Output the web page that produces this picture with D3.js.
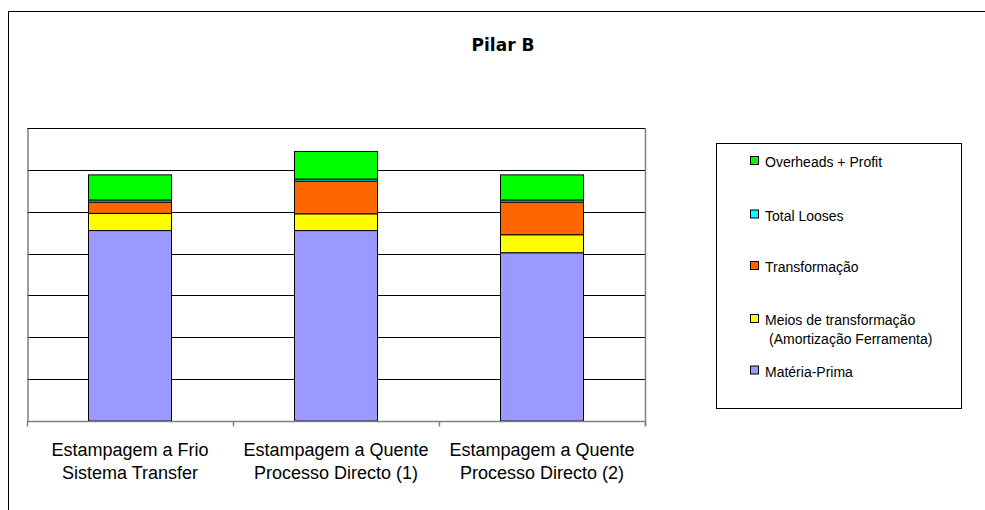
<!DOCTYPE html>
<html><head><meta charset="utf-8">
<script src="https://cdn.jsdelivr.net/npm/d3@7"></script>
<style>body{margin:0;background:#fff}svg{display:block}</style>
</head><body>
<svg id="c" width="985" height="510"></svg>
<script>
const categories = [["Estampagem a Frio","Sistema Transfer"],["Estampagem a Quente","Processo Directo (1)"],["Estampagem a Quente","Processo Directo (2)"]];
const seriesNames = ["Matéria-Prima","Meios de transformação (Amortização Ferramenta)","Transformação","Total Looses","Overheads + Profit"];
const materiaPrima = [4.55, 4.55, 4.02];
const meios = [0.41, 0.40, 0.43];
const transformacao = [0.27, 0.78, 0.78];
const totalLooses = [0.05, 0.05, 0.05];
const overheads = [0.60, 0.66, 0.60];
const colors = ["#9999FF","#FFFF00","#FF6600","#00FFFF","#00FF00"];
const yTicks = [0,1,2,3,4,5,6,7];

const svg = d3.select("#c");
// outer chart border
svg.append("rect").attr("x",8.5).attr("y",11.5).attr("width",1000).attr("height",520)
  .attr("fill","none").attr("stroke","#000").attr("stroke-width",1);

svg.append("text").attr("x",503).attr("y",51).attr("text-anchor","middle")
  .style("font-family","DejaVu Sans").style("font-weight","bold").style("font-size","17px")
  .text("Pilar B");

const L=27, R=645, T=128, B=421;
const keys = categories.map((c,i)=>i);
const x = d3.scaleBand().domain(keys).range([L,R]).paddingInner(0.595).paddingOuter(0.2975);
const xb = d3.scaleBand().domain(keys).range([L,R]).padding(0);
const y = d3.scaleLinear().domain([0,7]).range([B,T]);

// gridlines
svg.append("g").selectAll("line").data(yTicks.slice(1)).join("line")
  .attr("x1",L).attr("x2",R).attr("y1",d=>Math.round(y(d))+0.5).attr("y2",d=>Math.round(y(d))+0.5)
  .attr("stroke","#000").attr("stroke-width",1);

// stacked data
const rows = keys.map(i=>({i, s0:materiaPrima[i], s1:meios[i], s2:transformacao[i], s3:totalLooses[i], s4:overheads[i]}));
const stack = d3.stack().keys(["s0","s1","s2","s3","s4"])(rows);
svg.append("g").selectAll("g").data(stack).join("g").attr("fill",(d,k)=>colors[k])
  .selectAll("rect").data(d=>d).join("rect")
  .attr("x",d=>Math.round(x(d.data.i))+0.5).attr("width",Math.round(x.bandwidth()))
  .attr("y",d=>y(d[1])).attr("height",d=>y(d[0])-y(d[1]))
  .attr("stroke","#000").attr("stroke-width",1);

// right border of plot area
svg.append("line").attr("x1",R+0.5).attr("x2",R+0.5).attr("y1",T).attr("y2",B+5)
  .attr("stroke","#808080").attr("stroke-width",1.5);

// axes
const yAxis = d3.axisLeft(y).tickValues(yTicks).tickSize(0).tickFormat("");
svg.append("g").attr("transform",`translate(${L+0.5},0)`).call(yAxis)
  .call(g=>g.select(".domain").attr("stroke","#808080").attr("stroke-width",1.5));
const xAxisG = svg.append("g").attr("transform",`translate(0,${B+0.5})`);
xAxisG.append("line").attr("x1",L).attr("x2",R).attr("stroke","#808080").attr("stroke-width",1.5);
xAxisG.selectAll("line.t").data([...keys.map(k=>xb(k)), R]).join("line").attr("class","t")
  .attr("x1",d=>d+0.5).attr("x2",d=>d+0.5).attr("y1",0).attr("y2",5)
  .attr("stroke","#808080").attr("stroke-width",1.5);
const lab = xAxisG.selectAll("text").data(keys).join("text")
  .attr("x",k=>xb(k)+xb.bandwidth()/2).attr("text-anchor","middle")
  .style("font-family","'Liberation Sans', Arial").style("font-size","18px").attr("fill","#000");
lab.selectAll("tspan").data(k=>categories[k]).join("tspan")
  .attr("x",function(){return this.parentNode.getAttribute("x");})
  .attr("y",(d,j)=>34.5+j*22.6).text(d=>d);

// legend
svg.append("rect").attr("x",716.5).attr("y",143.5).attr("width",245).attr("height",265)
  .attr("fill","#fff").attr("stroke","#000").attr("stroke-width",1);
const legendItems = [
  {k:4, lines:["Overheads + Profit"], yb:167},
  {k:3, lines:["Total Looses"], yb:220.5},
  {k:2, lines:["Transformação"], yb:272},
  {k:1, lines:["Meios de transformação","(Amortização Ferramenta)"], yb:325},
  {k:0, lines:["Matéria-Prima"], yb:376.5}
];
const lg = svg.append("g").selectAll("g").data(legendItems).join("g");
lg.append("rect").attr("x",750.5).attr("y",d=>d.yb-10.5).attr("width",8).attr("height",8)
  .attr("fill",d=>colors[d.k]).attr("stroke","#000").attr("stroke-width",1);
lg.append("text").style("font-family","'Liberation Sans', Arial").style("font-size","14px").attr("fill","#000")
  .selectAll("tspan").data(d=>d.lines.map((t,j)=>({t,j,yb:d.yb}))).join("tspan")
  .attr("x",d=>d.j===0?765:769).attr("y",d=>d.yb+d.j*19).text(d=>d.t);
</script>
</body></html>
